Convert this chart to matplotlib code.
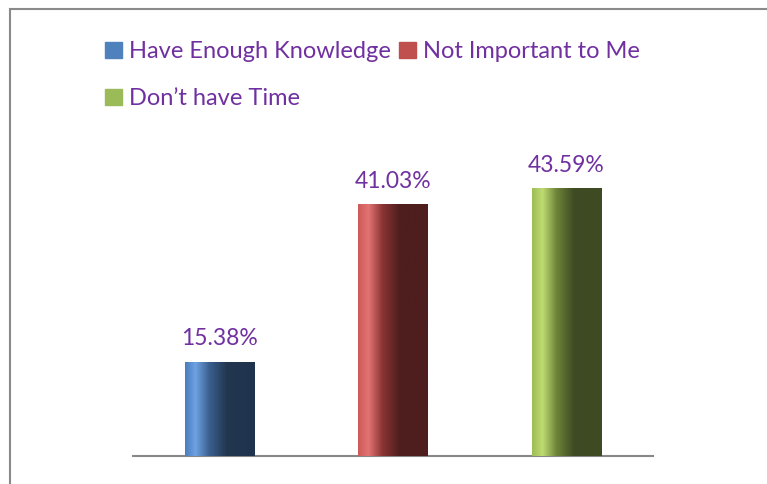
import matplotlib.pyplot as plt
import numpy as np
from matplotlib.colors import LinearSegmentedColormap
from matplotlib.patches import Patch, Rectangle

categories = ["Have Enough Knowledge", "Not Important to Me", "Don\u2019t have Time"]
values = [15.38, 41.03, 43.59]
labels = ["15.38%", "41.03%", "43.59%"]

base_colors = ["#4F81BD", "#C0504D", "#9BBB59"]
# gradient stops (edge, highlight, dark) per bar
grad_colors = [
    ["#4A7CBE", "#6FA2E2", "#3A5F8E", "#22364F", "#1F3350"],
    ["#CC5A58", "#E27472", "#8A3434", "#4E1D1D", "#4E1E1D"],
    ["#9CBE55", "#BEDC72", "#6E8438", "#3F4B24", "#3E4A22"],
]
purple = "#7030A0"

plt.rcParams['font.family'] = ['Lato', 'DejaVu Sans']

fig = plt.figure(figsize=(7.67, 4.84), dpi=100)
ax = fig.add_axes([133/767, 28/484, 520/767, (456-149)/484])

x = np.arange(len(values))
width = 0.4
bars = ax.bar(x, values, width, color=base_colors, zorder=2)

grad = np.linspace(0, 1, 256).reshape(1, -1)
for b, cols in zip(bars, grad_colors):
    cmap = LinearSegmentedColormap.from_list(
        "g", list(zip([0, 0.15, 0.35, 0.6, 1.0], cols)))
    x0, y0 = b.get_x(), b.get_y()
    im = ax.imshow(grad, cmap=cmap, aspect='auto', zorder=3,
                   extent=[x0, x0 + b.get_width(), y0, y0 + b.get_height()])
    im.set_clip_path(b)

for xi, v, lab in zip(x, values, labels):
    ax.text(xi, v + 2.0, lab, ha='center', va='bottom', color=purple, fontsize=16.5)

ax.set_xlim(-0.5, 2.5)
ax.set_ylim(0, 50)
for s in ['top', 'right', 'left']:
    ax.spines[s].set_visible(False)
ax.spines['bottom'].set_color('#888888')
ax.spines['bottom'].set_linewidth(1.5)
ax.set_xticks([])
ax.set_yticks([])

handles = [Patch(color=c) for c in base_colors]
order = [0, 2, 1]
leg = fig.legend([handles[i] for i in order], [categories[i] for i in order],
                 ncol=2, loc='upper left', bbox_to_anchor=(84/767, 1 - 20/484),
                 frameon=False, fontsize=17, handlelength=0.7, handleheight=0.7,
                 handletextpad=0.3, columnspacing=0.35, labelspacing=1.1)
for t in leg.get_texts():
    t.set_color(purple)

fig.patches.append(Rectangle((10/767, -0.01), 1.0, 1 - 9/484 + 0.01,
                             transform=fig.transFigure, fill=False,
                             edgecolor='#8a8a8a', linewidth=1.5))

fig.savefig("out.png", dpi=100)
